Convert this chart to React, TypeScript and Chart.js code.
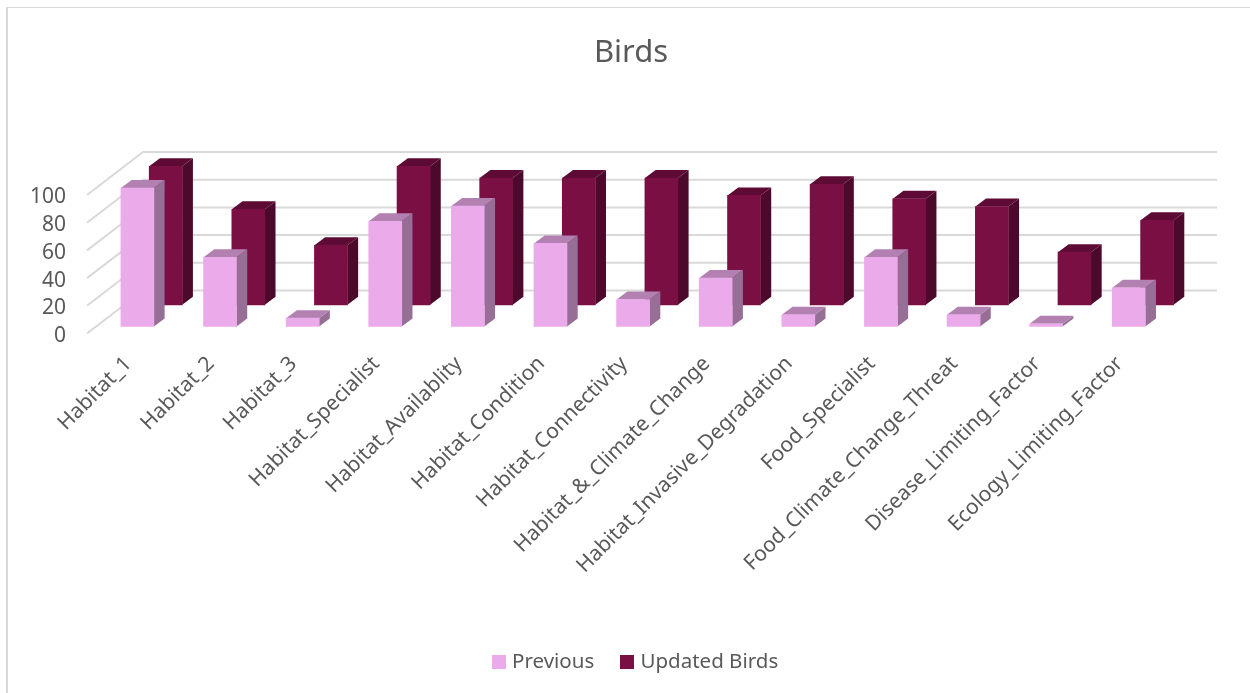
import React, { useEffect, useRef } from "react";
import { Chart, registerables } from "chart.js";

Chart.register(...registerables);

const categories = [
  "Habitat_1", "Habitat_2", "Habitat_3", "Habitat_Specialist", "Habitat_Availablity",
  "Habitat_Condition", "Habitat_Connectivity", "Habitat_&_Climate_Change",
  "Habitat_Invasive_Degradation", "Food_Specialist", "Food_Climate_Change_Threat",
  "Disease_Limiting_Factor", "Ecology_Limiting_Factor",
];
const previous = [100, 50, 6, 76, 87, 60, 19.5, 35, 8.5, 50, 8.5, 2, 28];
const updatedBirds = [100, 69, 43, 100, 91.5, 91.5, 91.5, 79, 87, 76.5, 71, 38, 61];
const yTicks = [0, 20, 40, 60, 80, 100];

const FONT = "'Noto Sans'";
const TEXT = "#595959";
const GRID = "#d9d9d9";
const PINK = { front: "#ebaaea", side: "#966e96", top: "#b281b1" };
const WINE = { front: "#7a0f44", side: "#4c092b", top: "#5d0b34" };

// Oblique projection of the 3D box: total depth, row offsets and bar extrusion.
const WALL = { dx: 56, dy: -43 };
const ROWS = [
  { dx: 9.1, dy: -7, shade: PINK },
  { dx: 37.4, dy: -28.7, shade: WINE },
];
const BAR_DEPTH = { dx: 10.7, dy: -8 };

// Square legend swatch, drawn wider than the legend's nominal box so the label sits close to it.
function swatch(color: string) {
  const c = document.createElement("canvas");
  c.width = 14;
  c.height = 14;
  const g = c.getContext("2d")!;
  g.fillStyle = color;
  g.fillRect(0, 0, 14, 14);
  return c;
}

const box3d = {
  id: "box3d",
  afterLayout(chart: any) {
    chart.legend.left += 6;
    chart.legend.right += 6;
  },
  beforeDatasetsDraw(chart: any) {
    const { ctx, scales, chartArea } = chart;
    const right = chartArea.right + WALL.dx;
    ctx.save();
    ctx.strokeStyle = GRID;
    ctx.lineWidth = 2;
    yTicks.forEach((t) => {
      const y = scales.y.getPixelForValue(t);
      ctx.beginPath();
      ctx.moveTo(chartArea.left, y);
      ctx.lineTo(chartArea.left + WALL.dx, y + WALL.dy);
      ctx.lineTo(right, y + WALL.dy);
      ctx.stroke();
    });
    ctx.restore();
  },
  beforeDatasetDraw(chart: any, args: any) {
    const { ctx } = chart;
    const row = ROWS[args.index];
    ctx.save();
    ctx.translate(row.dx, row.dy);
    args.meta.data.forEach((bar: any) => {
      const { x, y, base, width } = bar.getProps(["x", "y", "base", "width"], true);
      const r = x + width / 2;
      const l = x - width / 2;
      ctx.fillStyle = row.shade.side;
      ctx.beginPath();
      ctx.moveTo(r, base);
      ctx.lineTo(r + BAR_DEPTH.dx, base + BAR_DEPTH.dy);
      ctx.lineTo(r + BAR_DEPTH.dx, y + BAR_DEPTH.dy);
      ctx.lineTo(r, y);
      ctx.closePath();
      ctx.fill();
      ctx.fillStyle = row.shade.top;
      ctx.beginPath();
      ctx.moveTo(l, y);
      ctx.lineTo(l + BAR_DEPTH.dx, y + BAR_DEPTH.dy);
      ctx.lineTo(r + BAR_DEPTH.dx, y + BAR_DEPTH.dy);
      ctx.lineTo(r, y);
      ctx.closePath();
      ctx.fill();
    });
  },
  afterDatasetDraw(chart: any) {
    chart.ctx.restore();
  },
  beforeDraw(chart: any) {
    // Draws the chart frame: a heavier left rule and a thin top rule.
    const { ctx, width, height } = chart;
    ctx.save();
    ctx.fillStyle = GRID;
    ctx.fillRect(6, 7, 2, height - 7);
    ctx.fillRect(6, 7, width - 6, 1);
    ctx.restore();
  },
};

export default function App() {
  const ref = useRef<HTMLCanvasElement>(null);
  useEffect(() => {
    const swatches = [swatch(PINK.front), swatch(WINE.front)];
    const chart = new Chart(ref.current!, {
      type: "bar",
      data: {
        labels: categories,
        datasets: [
          { label: "Previous", data: previous, backgroundColor: PINK.front, clip: false },
          { label: "Updated Birds", data: updatedBirds, backgroundColor: WINE.front, clip: false },
        ],
      },
      options: {
        responsive: false,
        animation: false,
        events: [],
        layout: { padding: { left: 12, right: 0, top: 0, bottom: 11 } },
        datasets: { bar: { grouped: false, barThickness: 33 } },
        plugins: {
          tooltip: { enabled: false },
          title: {
            display: true,
            text: "Birds",
            color: TEXT,
            font: { family: FONT, size: 31, weight: "normal" },
            padding: { top: 35, bottom: 122.8 },
          },
          legend: {
            position: "bottom",
            labels: {
              usePointStyle: true,
              boxWidth: 6,
              boxHeight: 14,
              color: TEXT,
              padding: 30,
              font: { family: FONT, size: 20.5 },
              generateLabels: (c: any) =>
                Chart.defaults.plugins.legend.labels
                  .generateLabels(c)
                  .map((item: any, i: number) => ({ ...item, pointStyle: swatches[i] })),
            },
          },
        },
        scales: {
          x: {
            grid: { display: false, drawTicks: false },
            border: { display: false },
            afterFit: (s: any) => { s.height = 288; },
            ticks: {
              minRotation: 45,
              maxRotation: 45,
              autoSkip: false,
              color: TEXT,
              padding: 18,
              font: { family: FONT, size: 21 },
            },
          },
          y: {
            min: 0,
            max: 100,
            grid: { display: false, drawTicks: false },
            border: { display: false },
            afterFit: (s: any) => { s.width = 75; },
            ticks: {
              stepSize: 20,
              autoSkip: false,
              color: TEXT,
              padding: 21,
              labelOffset: 2.5,
              font: { family: FONT, size: 21 },
            },
          },
          rightMargin: {
            position: "right",
            display: true,
            grid: { display: false, drawTicks: false },
            border: { display: false },
            ticks: { display: false },
            afterFit: (s: any) => { s.width = 89; },
          },
        },
      } as any,
      plugins: [box3d],
    });
    return () => chart.destroy();
  }, []);
  return (
    <div style={{ position: "fixed", left: 0, top: 0, width: 1250, height: 693, background: "#fff" }}>
      <canvas ref={ref} width={1250} height={693} style={{ display: "block" }} />
    </div>
  );
}
